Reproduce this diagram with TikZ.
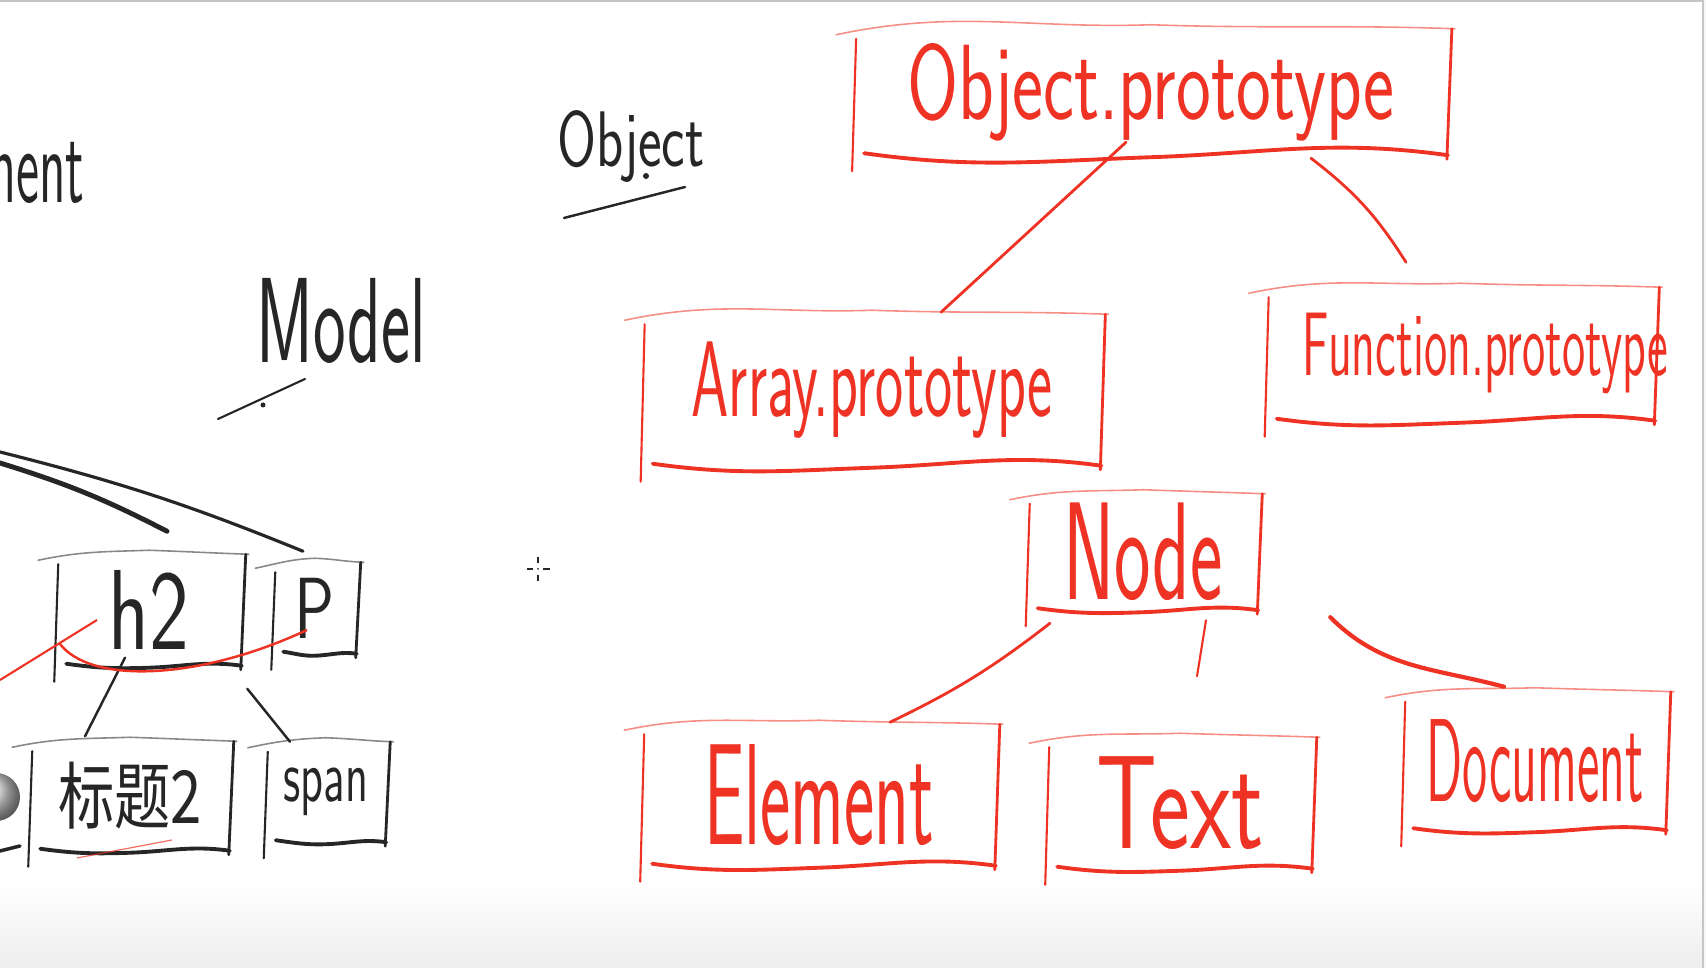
\documentclass[tikz,border=0pt]{standalone}
\usepackage{fontspec}
\newfontfamily\cjk{Noto Sans CJK SC}
\usepackage{graphicx}
\usepackage{tikz}
\usetikzlibrary{positioning,calc}

\definecolor{ink}{RGB}{238,50,36}
\definecolor{pen}{RGB}{38,38,38}

% size, vertical stretch, text
\newcommand\handtxt[3]{\fontsize{#1}{#1}\selectfont\scalebox{1}[#2]{#3}}

% four loose strokes round a node
\newcommand\sketchbox[2]{%
  \draw[#2, line width=0.45pt, opacity=.55, line cap=round]
    ([shift={(-14,-6)}]#1.north west) to[out=12,in=182] ([shift={(0,4)}]#1.north)
    to[out=-2,in=178] ([shift={(3,0)}]#1.north east);
  \draw[#2, line width=0.6pt, line cap=round] ([shift={(6,-10)}]#1.north west) -- ([shift={(2,-16)}]#1.south west);
  \draw[#2, line width=0.8pt, line cap=round] (#1.north east) -- ([shift={(-5,-4)}]#1.south east);
  \draw[#2, line width=1.1pt, line cap=round]
    ([shift={(14,2)}]#1.south west) to[out=-8,in=182] ([shift={(0,-2)}]#1.south)
    to[out=2,in=172] ([shift={(-4,0)}]#1.south east);
}

\begin{document}
\begin{tikzpicture}[
	x=0.01cm, y=0.01cm,
	redbox/.style={inner sep=0pt, text=ink, font=\sffamily},
	blkbox/.style={inner sep=0pt, text=pen, font=\sffamily},
	link/.style={ink, line width=0.8pt, line cap=round},
	blink/.style={pen, line width=0.7pt, line cap=round}
	]
	
	\useasboundingbox (0,0) rectangle (1706,-968);
	\shade[top color=white, bottom color=gray!14] (0,-880) rectangle (1706,-968);
	\fill[gray!6] (1703,0) rectangle (1706,-968);
	\draw[gray!45, line width=0.6pt] (0,-1) -- (1703,-1) -- (1703,-968);
	
	% prototype chain
	\node[redbox, minimum width=6cm, minimum height=1.25cm] (obj) at (1151,-92) {\handtxt{21}{1.45}{Object.prototype}};
	\node[redbox, minimum width=4.65cm, minimum height=1.5cm] (arr) at (872,-390) {\handtxt{17}{1.8}{Array.prototype}};
	\node[redbox, minimum width=3.95cm, minimum height=1.32cm,
	  label={[redbox, xshift=7pt]center:\handtxt{13.5}{1.9}{Function.prototype}}] (fun) at (1461,-354) {};
	\node[redbox, minimum width=2.37cm, minimum height=1.15cm] (nod) at (1143,-552) {\handtxt{22}{1.8}{Node}};
	\node[redbox, minimum width=3.6cm, minimum height=1.4cm] (ele) at (819,-795) {\handtxt{20.5}{2}{Element}};
	\node[redbox, minimum width=2.72cm, minimum height=1.3cm] (txt) at (1180,-803) {\handtxt{27}{1.4}{Text}};
	\node[redbox, minimum width=2.7cm, minimum height=1.37cm] (doc) at (1535,-761) {\handtxt{14.6}{2.3}{Document}};
	
	\sketchbox{obj}{ink}
	\sketchbox{arr}{ink}
	\sketchbox{fun}{ink}
	\sketchbox{nod}{ink}
	\sketchbox{ele}{ink}
	\sketchbox{txt}{ink}
	\sketchbox{doc}{ink}
	
	\draw[link] ([shift={(-25,13)}]obj.south) -- ([shift={(69,2)}]arr.north);
	\draw[link] ([shift={(160,-3)}]obj.south) to[bend left=10] ([shift={(-55,25)}]fun.north);
	\draw[link] ([shift={(-93,-13)}]nod.south) to[bend left=6] ([shift={(71,2)}]ele.north);
	\draw[link, line width=0.6pt] ([shift={(63,-10)}]nod.south) -- ([shift={(17,61)}]txt.north);
	\draw[link, line width=1.2pt] ([shift={(68,-7)}]nod.south east) to[out=-45,in=165] ([shift={(-31,5)}]doc.north);
	
	% left side, black pen
	\node[blkbox, anchor=east] (docw) at (85,-166) {\handtxt{15}{2}{Document}};
	\node[blkbox] (objw) at (631,-147) {\handtxt{16}{1.4}{Object}};
	\node[blkbox] (model) at (341,-321) {\handtxt{19.7}{1.75}{Model}};
	\draw[blink] (564,-218) -- (685,-187);
	\fill[pen] (646,-176) circle (3);
	\draw[blink, line width=0.6pt] (218,-419) -- (305,-379);
	\fill[pen] (263,-405) circle (2.5);
	
	\node[blkbox, minimum width=1.92cm, minimum height=1.1cm] (h2) at (149,-610) {\handtxt{24}{1.35}{h2}};
	\node[blkbox, minimum width=0.9cm, minimum height=0.9cm] (p) at (315,-608) {\handtxt{19}{1.3}{P}};
	\node[blkbox, minimum width=2.06cm, minimum height=1.08cm] (t2) at (130,-796) {\handtxt{16}{1.3}{\cjk 标题2}};
	\node[blkbox, minimum width=1.27cm, minimum height=0.99cm] (spn) at (326,-792) {\handtxt{13}{1.6}{span}};
	
	\sketchbox{h2}{pen}
	\sketchbox{p}{pen}
	\sketchbox{t2}{pen}
	\sketchbox{spn}{pen}
	
	\draw[blink, line width=1.4pt] (0,-463) to[bend left=5] ([shift={(18,23)}]h2.north);
	\draw[blink, line width=0.9pt] (0,-452) to[bend left=4] ([shift={(-12,11)}]p.north);
	\draw[blink] ([shift={(-24,8)}]h2.south) -- ([shift={(-45,5)}]t2.north);
	\draw[blink] ([shift={(-22,-35)}]p.south west) -- ([shift={(-36,0)}]spn.north);
	
	\coordinate (redfree) at (0,-680);
	\draw[ink, line width=0.6pt] (redfree) -- ([shift={(-52,-10)}]h2.center);
	\draw[ink, line width=0.7pt] ([shift={(7,-33)}]h2.west) .. controls (90,-685) and (200,-680) .. ([shift={(-8,-22)}]p.center);
	\draw[ink, line width=0.35pt, opacity=.7] (77,-858) -- (172,-840);
	
	\shade[ball color=gray!30] (-4,-797) circle (24);
	\draw[blink, line width=1pt] (0,-851) -- (20,-846);
	
	% cursor
	\draw[pen, line width=0.5pt] (527,-569) -- (533,-569) (543,-569) -- (550,-569)
	  (538,-557) -- (538,-563) (538,-575) -- (538,-581);
	\fill[pen] (538,-569) circle (1);
	
\end{tikzpicture}
\end{document}
